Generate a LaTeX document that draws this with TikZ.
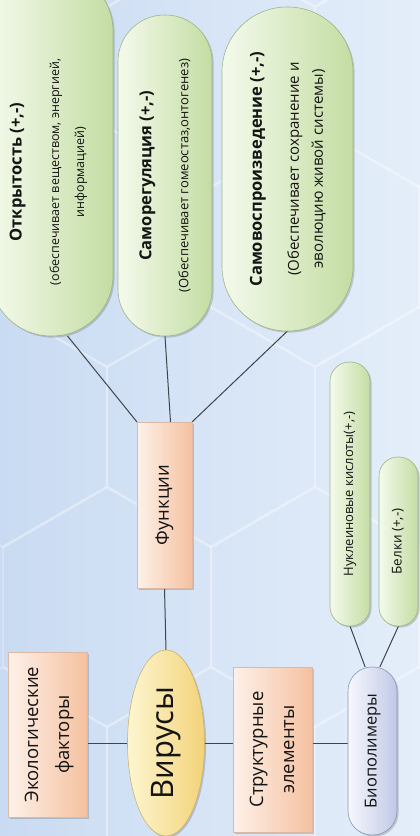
\documentclass[tikz,border=0pt]{standalone}
\usepackage{fontspec}
\setmainfont{Open Sans}
\usepackage{graphicx}
\usetikzlibrary{shapes.geometric,shadows,calc}

\pgfdeclarelayer{bg}
\pgfdeclarelayer{edges}
\pgfsetlayers{bg,edges,main}

\definecolor{bgA}{HTML}{C9DBF2}
\definecolor{bgB}{HTML}{E4EEFA}
\definecolor{pillA}{HTML}{F4FAEC}
\definecolor{pillB}{HTML}{C4DDA3}
\definecolor{pillline}{HTML}{9DB586}
\definecolor{boxA}{HTML}{FDF1E9}
\definecolor{boxB}{HTML}{F5C1A0}
\definecolor{boxline}{HTML}{DDB9A5}
\definecolor{virA}{HTML}{FDF6D0}
\definecolor{virB}{HTML}{F3D37A}
\definecolor{virline}{HTML}{CDB36A}
\definecolor{bioA}{HTML}{F7F8FD}
\definecolor{bioB}{HTML}{C0C8E6}
\definecolor{bioline}{HTML}{8D95B8}
\definecolor{linkc}{HTML}{3E454E}
\definecolor{txt}{HTML}{141414}

% text set bottom-to-top, several centred lines
\newcommand{\vlines}[1]{\rotatebox{90}{\begin{tabular}{@{}c@{}}#1\end{tabular}}}

\begin{document}
\begin{tikzpicture}[x=1pt,y=-1pt,
  every node/.style={text=txt, inner sep=0pt, outer sep=0pt},
  softshadow/.style={drop shadow={shadow xshift=1.6pt, shadow yshift=-1.6pt, opacity=0.25, fill=black!70}},
  pill/.style={rectangle, rounded corners=#1, draw=pillline, line width=0.6pt,
    left color=pillA, right color=pillB, softshadow},
  obox/.style={rectangle, draw=boxline, line width=0.6pt,
    left color=boxA, right color=boxB, softshadow},
  virbox/.style={ellipse, draw=virline, line width=0.6pt,
    left color=virA, right color=virB, softshadow},
  biobox/.style={rectangle, rounded corners=24, draw=bioline, line width=0.6pt,
    left color=bioA, right color=bioB, softshadow},
  link/.style={draw=linkc, line width=1pt},
  hexline/.style={draw=white, opacity=0.22, line width=2.4pt},
]
\useasboundingbox (0,0) rectangle (420,836);

% backdrop with a faint hexagon lattice
\begin{pgfonlayer}{bg}
  \fill[left color=bgA, right color=bgB] (0,0) rectangle (420,836);
  \begin{scope}
    \clip (0,0) rectangle (420,836);
    \foreach \k in {-3,...,3} {
      \foreach \i in {-1,...,2} {
        \pgfmathsetmacro\cx{211+208*\i+abs(mod(\k,2))*104}
        \pgfmathsetmacro\cy{427+180*\k}
        \draw[hexline] (\cx+104,\cy-60) -- (\cx,\cy-120) -- (\cx-104,\cy-60)
          -- (\cx-104,\cy+60) -- (\cx,\cy+120) -- (\cx+104,\cy+60) -- cycle;
      }
    }
  \end{scope}
\end{pgfonlayer}

% functions
\node[pill=61, minimum width=123, minimum height=366] (p1) at (51.5,153) {};
\node (p1txt) at (48,172) {\fontsize{12.5}{25}\selectfont\vlines{%
  {\bfseries\fontsize{16.5}{20}\selectfont Открытость (+,-)}\\[12.5pt]
  (обеспечивает веществом, энергией,\\
  информацией)}};
\node[pill=46.5, minimum width=94, minimum height=321] (p2) at (165,175.5)
  {\fontsize{13}{24}\selectfont\vlines{%
  {\bfseries\fontsize{16.5}{20}\selectfont Саморегуляция (+,-)}\\[13pt]
  (Обеспечивает гомеостаз,онтогенез)}};
\node[pill=65, minimum width=131, minimum height=324] (p3) at (287.5,169)
  {\fontsize{15}{24}\selectfont\vlines{%
  {\bfseries\fontsize{16.5}{20}\selectfont Самовоспроизведение (+,-)}\\[13pt]
  (Обеспечивает сохранение и\\
  эволюцию живой системы)}};

\node[obox, minimum width=55, minimum height=166] (fun) at (164.5,505)
  {\fontsize{18.5}{22}\selectfont\vlines{Функции}};

% central object and its neighbours
\node[virbox, minimum width=77, minimum height=186] (virus) at (166,743)
  {\fontsize{31}{36}\selectfont\vlines{Вирусы}};
\node[obox, minimum width=79, minimum height=165] (eco) at (47.5,734.5)
  {\fontsize{18.5}{31}\selectfont\vlines{Экологические\\факторы}};
\node[obox, minimum width=79, minimum height=165] (struct) at (272.5,749.5)
  {\fontsize{18.5}{31}\selectfont\vlines{Структурные\\элементы}};
\node[biobox, minimum width=49, minimum height=168] (bio) at (372.5,751)
  {\fontsize{16.5}{20}\selectfont\vlines{Биополимеры}};

\node[pill=19.5, minimum width=40, minimum height=264] (nuc) at (350,494)
  {\fontsize{13}{16}\selectfont\vlines{Нуклеиновые кислоты(+,-)}};
\node[pill=19, minimum width=39, minimum height=169] (bel) at (398.5,541.5)
  {\fontsize{13.5}{16}\selectfont\vlines{Белки (+,-)}};

% connectors
\begin{pgfonlayer}{edges}
  \draw[link] (fun.north west) -- (p1.-85);
  \draw[link] ([xshift=6pt]fun.north) -- (p2.south);
  \draw[link] (fun.north east) -- (p3.south);
  \draw[link] (fun.south) -- (virus.north);
  \draw[link] (virus.west) -- (virus.west -| eco.east);
  \draw[link] (virus.east) -- (virus.east -| struct.west);
  \draw[link] (virus.east -| struct.east) -- (virus.east -| bio.west);
  \draw[link] (bio.95) -- (nuc.south);
  \draw[link] (bio.85) -- (bel.south);
\end{pgfonlayer}
\end{tikzpicture}
\end{document}
